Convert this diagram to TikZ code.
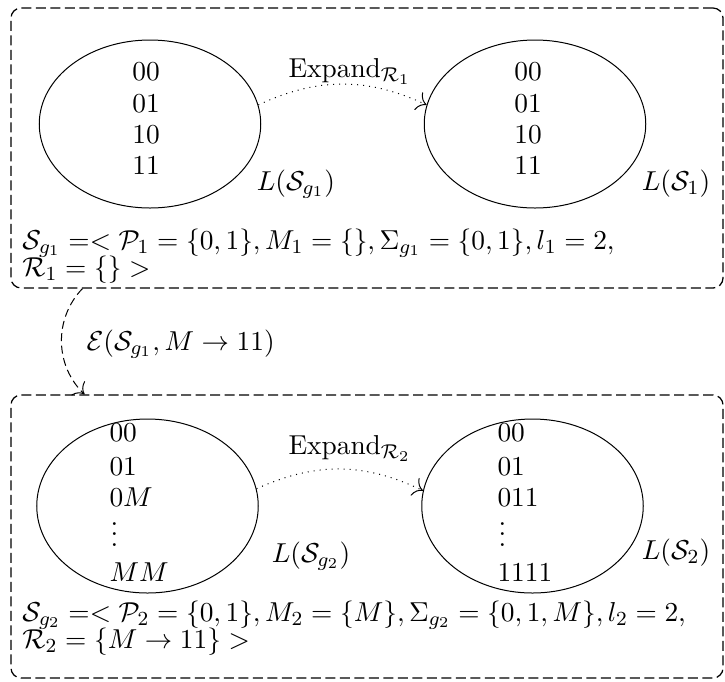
\documentclass[tikz,border=0pt]{standalone}
\usetikzlibrary{shapes.geometric,calc,arrows.meta}
\newcommand\myvdots{\vbox{\baselineskip4.2pt\lineskiplimit0pt\hbox{.}\hbox{.}\hbox{.}}}
\begin{document}
\begin{tikzpicture}[x=0.4pt,y=-0.4pt,
  >={To[scale=1.5]},
  every node/.style={font=\fontsize{10.95pt}{13.1pt}\selectfont},
  frame/.style={draw, rectangle, line width=0.5pt, dash pattern=on 4pt off 1.8pt, rounded corners=4pt, inner sep=0pt, minimum width=284.8pt},
  lang/.style={draw, ellipse, inner sep=0pt, minimum width=88.6pt},
  lbl/.style={inner sep=0pt, anchor=base west},
  word/.style={inner sep=0pt, anchor=base},
  expand/.style={->, dotted, bend left=25},
  ]
\useasboundingbox (0,0) rectangle (725,681);

% frames
\node[frame, minimum height=112pt] (box1) at (367,148) {};
\node[frame, minimum height=113.2pt] (box2) at (367,536.5) {};

% top ellipses
\node[lang, minimum height=67.2pt] (e1) at (150,124) {};
\node[lang, minimum height=67.2pt] (e2) at (535,124) {};
\node[word] (t1a) at (146,80) {00};
\node[word] (t1b) at (146,112) {01};
\node[word] (t1c) at (146,143) {10};
\node[word] (t1d) at (146,174) {11};
\node[word] (t2a) at (528,80) {00};
\node[word] (t2b) at (528,112) {01};
\node[word] (t2c) at (528,143) {10};
\node[word] (t2d) at (528,174) {11};
\node[word] (l1) at (296,190) {$L(\mathcal{S}_{g_1})$};
\node[word] (l2) at (676,190) {$L(\mathcal{S}_1)$};
\node[lbl] (x1) at (288,77) {Expand$_{\mathcal{R}_1}$};
\draw[expand] (e1.10) to (e2.170);
\node[lbl] (s1a) at (22,249) {$\mathcal{S}_{g_1} =< \mathcal{P}_1=\{0,1\}, M_1=\{\}, \Sigma_{g_1}=\{0,1\}, l_1=2,$};
\node[lbl] (s1b) at (22,276) {$\mathcal{R}_1=\{\} >$};

% connector between boxes
\coordinate (es) at ($(box1.south west)!0.101!(box1.south east)$);
\coordinate (ee) at ($(box2.north west)!0.104!(box2.north east)$);
\draw[->, dash pattern=on 3.2pt off 1.8pt] (es) to[bend right=45] (ee);
\node[lbl] (el) at (86,350) {$\mathcal{E}(\mathcal{S}_{g_1}, M\rightarrow 11)$};

% bottom ellipses
\node[lang, minimum height=69.6pt] (b1) at (147.5,506) {};
\node[lang, minimum height=69.6pt] (b2) at (532.5,506) {};
\node[lbl] (u1a) at (109,441) {00};
\node[lbl] (u1b) at (109,475) {01};
\node[lbl] (u1c) at (109,506) {$0M$};
\node[lbl] (u1d) at (110,546) {\myvdots};
\node[lbl] (u1e) at (109,581) {$MM$};
\node[lbl] (u2a) at (497,441) {00};
\node[lbl] (u2b) at (497,475) {01};
\node[lbl] (u2c) at (497,506) {011};
\node[lbl] (u2d) at (498,546) {\myvdots};
\node[lbl] (u2e) at (497,581) {1111};
\node[word] (l3) at (311,562) {$L(\mathcal{S}_{g_2})$};
\node[word] (l4) at (676,559) {$L(\mathcal{S}_2)$};
\node[lbl] (x2) at (288,454) {Expand$_{\mathcal{R}_2}$};
\draw[expand] (b1.9) to (b2.172);
\node[lbl] (s2a) at (22,621) {$\mathcal{S}_{g_2} =< \mathcal{P}_2=\{0,1\}, M_2=\{M\}, \Sigma_{g_2}=\{0,1,M\}, l_2=2,$};
\node[lbl] (s2b) at (22,648) {$\mathcal{R}_2=\{M\rightarrow 11\} >$};
\end{tikzpicture}
\end{document}
